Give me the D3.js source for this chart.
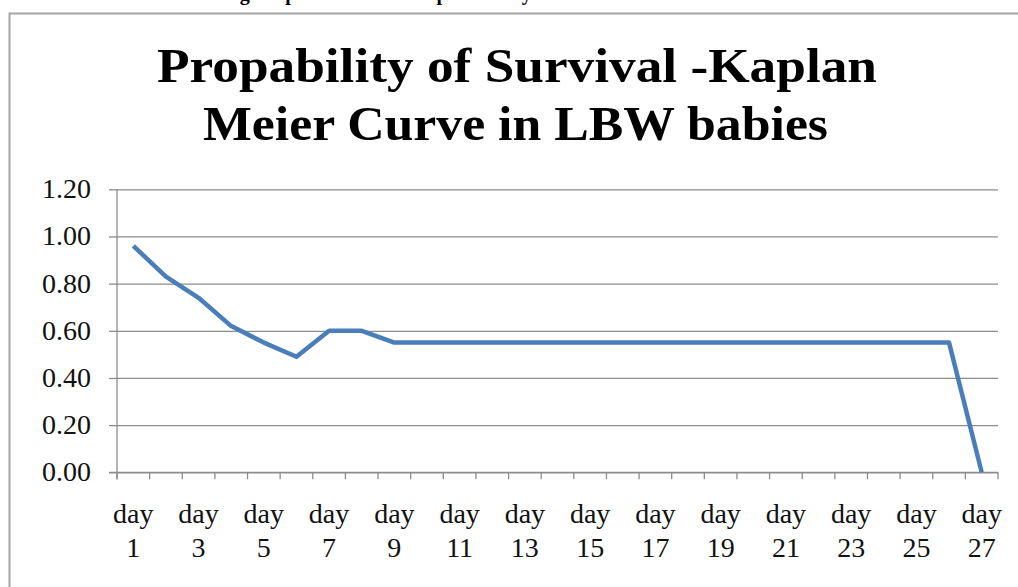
<!DOCTYPE html>
<html><head><meta charset="utf-8">
<script src="https://cdn.jsdelivr.net/npm/d3@7"></script>
<style>body{margin:0;background:#fff;} svg{display:block;}</style>
</head><body>
<svg id="chart" width="1018" height="587"></svg>
<script>
const caption = "Fig. Kaplan Meier curve probability of survival";
const titleLines = ["Propability of Survival -Kaplan", "Meier Curve in LBW babies"];
const categories = ["day 1","day 2","day 3","day 4","day 5","day 6","day 7","day 8","day 9","day 10","day 11","day 12","day 13","day 14","day 15","day 16","day 17","day 18","day 19","day 20","day 21","day 22","day 23","day 24","day 25","day 26","day 27"];
const survival = [0.96,0.83,0.74,0.62,0.55,0.49,0.60,0.60,0.55,0.55,0.55,0.55,0.55,0.55,0.55,0.55,0.55,0.55,0.55,0.55,0.55,0.55,0.55,0.55,0.55,0.55,0.00];
const yTicks = [0,0.2,0.4,0.6,0.8,1.0,1.2];
const xLabelEvery = 2;

const svg = d3.select("#chart");
const L = 117, R = 998, T = 189.3, B = 472.3;
const x = d3.scaleBand().domain(categories).range([L, R]).padding(0);
const y = d3.scaleLinear().domain([0, 1.2]).range([B, T]);
const axisColor = "#8c8c8c";
const textFont = "'Liberation Serif', 'Times New Roman', serif";

// chart border
svg.append("rect").attr("x", 9.5).attr("y", 13.5).attr("width", 1100).attr("height", 700)
  .attr("fill", "none").attr("stroke", "#a6a6a6").attr("stroke-width", 2);

// caption (cut off at top)
svg.append("text").attr("x", 222).attr("y", 0).attr("font-family", textFont)
  .attr("font-weight", "bold").attr("font-size", 20).attr("fill", "#000").text(caption);

// title
const titleBase = [82, 140];
const titleWidths = [720, 625];
const titleCx = [517, 515.5];
titleLines.forEach((t, i) => {
  svg.append("text").attr("x", titleCx[i]).attr("y", titleBase[i]).attr("text-anchor", "middle")
    .attr("font-family", textFont).attr("font-weight", "bold").attr("font-size", 48)
    .attr("textLength", titleWidths[i]).attr("lengthAdjust", "spacingAndGlyphs")
    .attr("fill", "#000").text(t);
});

// gridlines
const grid = svg.append("g").attr("transform", `translate(${L},0)`)
  .call(d3.axisLeft(y).tickValues(yTicks).tickSize(-(R - L)).tickFormat(""));
grid.select(".domain").remove();
grid.selectAll("line").attr("stroke", axisColor).attr("stroke-width", 1.3);

// y axis
const yAxis = svg.append("g").attr("transform", `translate(${L},0)`)
  .call(d3.axisLeft(y).tickValues(yTicks).tickSize(8).tickPadding(18).tickFormat(d3.format(".2f")));
yAxis.select(".domain").attr("d", `M0,${T}V${B + 7}`).attr("stroke", axisColor).attr("stroke-width", 1.3);
yAxis.selectAll(".tick line").attr("stroke", axisColor).attr("stroke-width", 1.3);
yAxis.selectAll(".tick text").attr("font-family", textFont).attr("font-size", 28).attr("fill", "#111")
  .attr("dy", "0.3em");

// x axis line and ticks at category boundaries
const xg = svg.append("g");
xg.append("line").attr("x1", L - 8).attr("x2", R).attr("y1", B).attr("y2", B)
  .attr("stroke", axisColor).attr("stroke-width", 1.3);
const bounds = categories.map(c => x(c)).concat([x.range()[1]]);
xg.selectAll(".xt").data(bounds).join("line").attr("class", "xt")
  .attr("x1", d => d).attr("x2", d => d).attr("y1", B).attr("y2", B + 7)
  .attr("stroke", axisColor).attr("stroke-width", 1.3);

// x labels
const lab = xg.selectAll(".xl").data(categories.filter((c, i) => i % xLabelEvery === 0)).join("text")
  .attr("class", "xl").attr("text-anchor", "middle").attr("font-family", textFont)
  .attr("font-size", 28).attr("fill", "#111");
lab.append("tspan").attr("x", d => x(d) + x.bandwidth() / 2).attr("y", 523).text(d => d.split(" ")[0]);
lab.append("tspan").attr("x", d => x(d) + x.bandwidth() / 2).attr("y", 557).text(d => d.split(" ")[1]);

// line
const line = d3.line().x((d, i) => x(categories[i]) + x.bandwidth() / 2).y(d => y(d));
svg.append("path").datum(survival).attr("d", line).attr("fill", "none")
  .attr("stroke", "#4a7ebb").attr("stroke-width", 4.5).attr("stroke-linejoin", "round");
</script>
</body></html>
